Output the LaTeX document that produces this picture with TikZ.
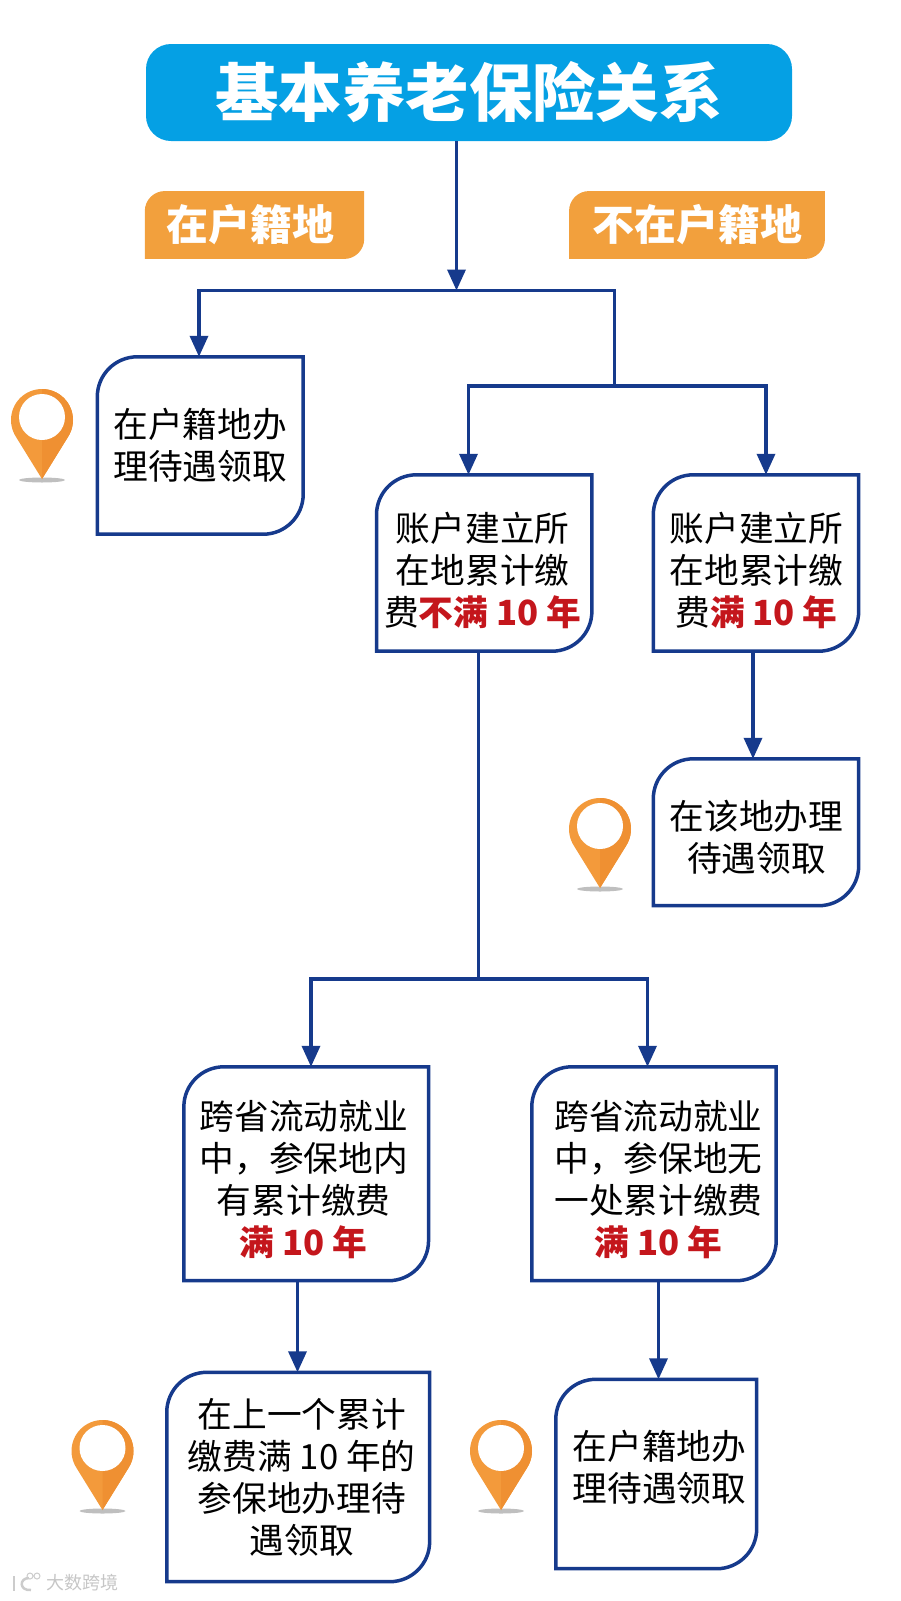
\documentclass[tikz,border=0pt]{standalone}
\usepackage{fontspec}
\usepackage{amsmath}
\setmainfont{Noto Sans CJK SC}
\newfontfamily\heavyfont{Noto Sans CJK SC Black}
\usetikzlibrary{arrows.meta,backgrounds,calc}
\definecolor{linkblue}{HTML}{163A8C}
\definecolor{headblue}{HTML}{05A0E4}
\definecolor{tagorange}{HTML}{F2A03D}
\definecolor{pinorange}{HTML}{F39A3B}
\definecolor{pindark}{HTML}{EF9032}
\definecolor{alertred}{HTML}{C4161C}
\newcommand{\hot}[1]{\textcolor{alertred}{\bfseries #1}}
\newcommand{\leafframe}[2]{\path[#2] [rounded corners=40pt] (#1.west) |- (#1.north) [sharp corners] -| (#1.east) [rounded corners=40pt] |- (#1.south) [sharp corners] -| (#1.west) -- cycle;}
\newcommand{\tagframe}[1]{\begin{scope}[on background layer]\path[fill=tagorange] [rounded corners=20pt] (#1.west) |- (#1.north) [sharp corners] -| (#1.east) [rounded corners=20pt] |- (#1.south) [sharp corners] -| (#1.west) -- cycle;\end{scope}}
\newcommand{\pinshape}[2]{(#1,#2) circle (31pt) ($(#1,#2)+(-26.2,16.6)$) -- (#1,#2+59) -- ($(#1,#2)+(26.2,16.6)$) -- cycle}
\newcommand{\locpin}[2]{
    \fill[gray!50] (#1,#2+60) ellipse (23pt and 2.5pt);
    \fill[pinorange] \pinshape{#1}{#2};
    \begin{scope}
        \clip (#1,#2-40) rectangle (#1+40,#2+70);
        \fill[pindark] \pinshape{#1}{#2};
    \end{scope}
    \fill[white] (#1,#2-3) circle (23pt);
}
\tikzset{
    link/.style={draw=linkblue, line width=3.5pt},
    linkarrow/.style={link, -{Triangle[length=21pt,width=18pt]}},
    leafbox/.style={inner sep=0pt},
    leaftext/.style={font=\fontsize{34.7}{42}\selectfont, align=center, inner sep=0pt},
    tagtext/.style={font=\fontsize{42}{48}\selectfont\bfseries, text=white, inner sep=0pt}
}
\begin{document}
\begin{tikzpicture}[x=1pt, y=-1pt]
    \useasboundingbox (0,0) rectangle (900,1601);

    \node[fill=headblue, rounded corners=25pt, minimum width=646pt, minimum height=97pt, inner sep=0pt, text=white, font=\fontsize{63.4}{70}\selectfont\heavyfont] (title) at (469,92.5) {\raisebox{-7.5pt}{基本养老保险关系}};

    \node[tagtext, minimum width=219pt, minimum height=67.5pt] (tagin) at (254.5,225) {\hspace*{-9pt}在户籍地};
    \node[tagtext, minimum width=255.5pt, minimum height=67.5pt] (tagout) at (697,225) {不在户籍地};
    \tagframe{tagin}
    \tagframe{tagout}

    \node[leafbox, minimum width=205.5pt, minimum height=177pt, label={[leaftext, name=hometakeword, shift={(0,-0.5)}]center:{在户籍地办\\理待遇领取}}] (hometake) at (200.25,445.5) {};
    \node[leafbox, minimum width=215pt, minimum height=176pt, label={[leaftext, name=underword, shift={(-1.5,7)}]center:{账户建立所\\在地累计缴\\费\hot{不满 10 年}}}] (under) at (484.2,563) {};
    \node[leafbox, minimum width=205pt, minimum height=176pt, label={[leaftext, name=fullword, shift={(0.5,7)}]center:{账户建立所\\在地累计缴\\费\hot{满 10 年}}}] (full) at (756,563) {};
    \node[leafbox, minimum width=205pt, minimum height=146.5pt, label={[leaftext, name=heretakeword, shift={(0.5,4.75)}]center:{在该地办理\\待遇领取}}] (heretake) at (756,832.25) {};
    \node[leafbox, minimum width=244.3pt, minimum height=213.5pt, label={[leaftext, name=someword, shift={(-2.5,6.25)}]center:{跨省流动就业\\中，参保地内\\有累计缴费\\\hot{满 10 年}}}] (some) at (306.2,1173.75) {};
    \node[leafbox, minimum width=244pt, minimum height=213.5pt, label={[leaftext, name=noneword, shift={(4.5,6.25)}]center:{跨省流动就业\\中，参保地无\\一处累计缴费\\\hot{满 10 年}}}] (none) at (654,1173.75) {};
    \node[leafbox, minimum width=262.5pt, minimum height=209pt, label={[leaftext, name=lasttakeword, shift={(3.5,0.5)}]center:{在上一个累计\\缴费满 10 年的\\参保地办理待\\遇领取}}] (lasttake) at (298.2,1477) {};
    \node[leafbox, minimum width=200.5pt, minimum height=189pt, label={[leaftext, name=homeendword, shift={(3.25,-6.5)}]center:{在户籍地办\\理待遇领取}}] (homeend) at (656.25,1474) {};

    \foreach \n in {hometake,under,full,heretake,some,none,lasttake,homeend}
        \leafframe{\n}{draw=linkblue, line width=3.5pt};

    \coordinate (split) at (456.5,290.5);
    \coordinate (splitleft) at (199,290.5);
    \coordinate (splitright) at (614.3,290.5);
    \coordinate (fork) at (614.3,386);
    \coordinate (forkleft) at (468.5,386);
    \coordinate (forkright) at (766,386);
    \coordinate (low) at (478.5,979);
    \coordinate (lowleft) at (311,979);
    \coordinate (lowright) at (647.5,979);

    \draw[linkarrow] (title.south -| split) -- (split);
    \draw[link] (split) -- (splitright) -- (fork);
    \draw[linkarrow] (split) -- (splitleft) -- (hometake.north -| splitleft);
    \draw[linkarrow] (fork) -- (forkleft) -- (under.north -| forkleft);
    \draw[linkarrow] (fork) -- (forkright) -- (full.north -| forkright);
    \draw[linkarrow] (full.south -| 753,0) -- (heretake.north -| 753,0);
    \draw[link] (under.south -| low) -- (low);
    \draw[linkarrow] (low) -- (lowleft) -- (some.north -| lowleft);
    \draw[linkarrow] (low) -- (lowright) -- (none.north -| lowright);
    \draw[linkarrow] (some.south -| 297.5,0) -- (lasttake.north -| 297.5,0);
    \draw[linkarrow] (none.south -| 658.5,0) -- (homeend.north -| 658.5,0);

    \locpin{42}{420}
    \locpin{600}{829}
    \locpin{102.5}{1451}
    \locpin{501}{1451}

    \node[text=gray!45, font=\fontsize{18}{20}\selectfont, inner sep=0pt] (mark) at (82,1583) {大数跨境};
    \draw[gray!40, line width=2.5pt] (14,1576) -- (14,1591);
    \draw[gray!40, line width=2.5pt] (29,1578) .. controls (19,1578) and (19,1591) .. (31,1590);
    \draw[gray!40, line width=1pt] (30,1576) circle (3pt) (37,1576) circle (3pt);
\end{tikzpicture}
\end{document}
